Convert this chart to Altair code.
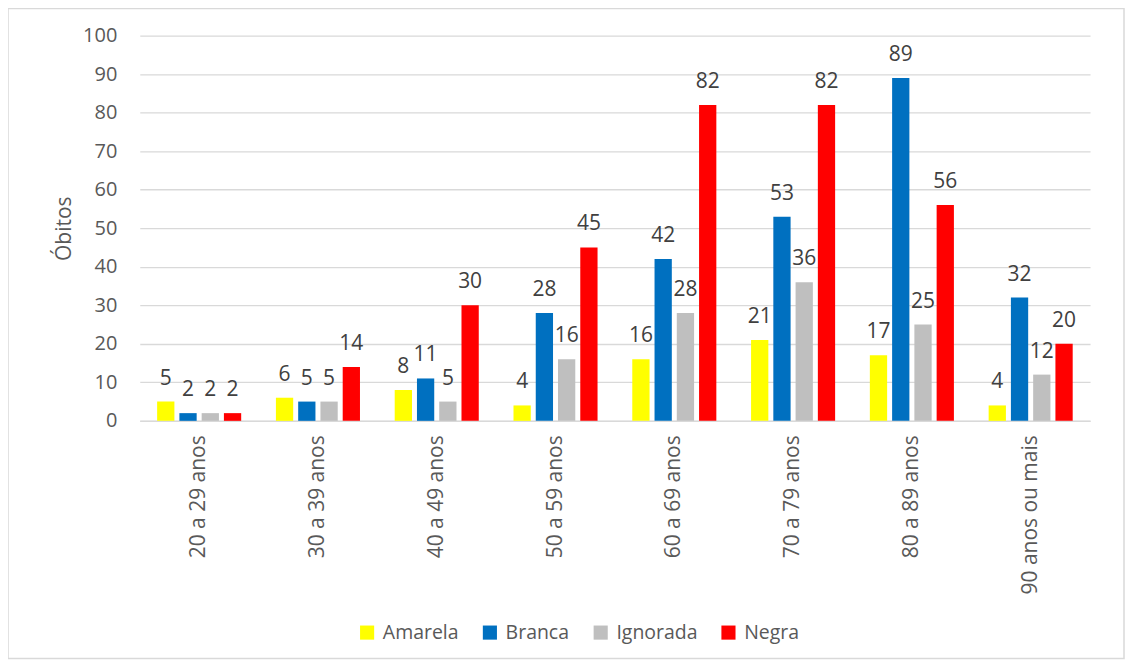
import altair as alt
import pandas as pd

faixas = ["20 a 29 anos", "30 a 39 anos", "40 a 49 anos", "50 a 59 anos",
          "60 a 69 anos", "70 a 79 anos", "80 a 89 anos", "90 anos ou mais"]
cores = ["Amarela", "Branca", "Ignorada", "Negra"]
amarela = [5, 6, 8, 4, 16, 21, 17, 4]
branca = [2, 5, 11, 28, 42, 53, 89, 32]
ignorada = [2, 5, 5, 16, 28, 36, 25, 12]
negra = [2, 14, 30, 45, 82, 82, 56, 20]
paleta = ["#FFFF00", "#0070C0", "#BFBFBF", "#FF0000"]

rows = []
for serie, vals in zip(cores, [amarela, branca, ignorada, negra]):
    for f, v in zip(faixas, vals):
        rows.append({"Faixa": f, "Cor": serie, "Obitos": v})
df = pd.DataFrame(rows)

FONT = "Open Sans"
W, H = 952, 386

base = alt.Chart(df).encode(
    x=alt.X("Faixa:N", sort=faixas,
            scale=alt.Scale(paddingInner=0, paddingOuter=0),
            axis=alt.Axis(title=None, labelAngle=-90, labelAlign="right",
                          labelBaseline="middle", labelPadding=14,
                          labelFontSize=21, labelColor="#595959", labelFont=FONT,
                          ticks=False, domainColor="#D9D9D9", domainWidth=1.5,
                          grid=False)),
    xOffset=alt.XOffset("Cor:N", sort=cores,
                        scale=alt.Scale(paddingInner=0.224, paddingOuter=0.78)),
    y=alt.Y("Obitos:Q",
            scale=alt.Scale(domain=[0, 100], nice=False),
            axis=alt.Axis(title="Óbitos", values=list(range(0, 101, 10)),
                          titleFontSize=21, titleFontWeight="normal",
                          titleColor="#595959", titleFont=FONT, titlePadding=8,
                          labelFontSize=20, labelColor="#595959", labelFont=FONT,
                          labelPadding=23, ticks=False, domain=False,
                          gridColor="#D9D9D9", gridWidth=1.3)),
)

bars = base.mark_bar().encode(
    color=alt.Color("Cor:N", sort=cores,
                    scale=alt.Scale(domain=cores, range=paleta),
                    legend=alt.Legend(title=None, orient="none", direction="horizontal",
                                      legendX=218, legendY=588,
                                      labelFontSize=19.5, labelColor="#595959",
                                      labelFont=FONT, symbolType="square",
                                      symbolSize=200, symbolStrokeWidth=0,
                                      columnPadding=21, labelOffset=6))
)

labels = base.mark_text(dy=-23, fontSize=21, color="#404040", font=FONT).encode(
    text=alt.Text("Obitos:Q")
)

frame = alt.Chart(pd.DataFrame({"k": [0]})).mark_rect(
    fill=None, stroke="#D9D9D9", strokeWidth=1.5
).encode(
    x=alt.value(-132), x2=alt.value(W + 34),
    y=alt.value(-27), y2=alt.value(H + 238)
)

chart = alt.layer(frame, bars, labels).properties(
    width=W, height=H,
    autosize=alt.AutoSizeParams(type="none"),
    padding={"left": 132, "top": 27, "right": 35, "bottom": 240},
).configure_view(stroke=None)

chart.save("out.html", embed_options={"renderer": "svg", "actions": False})
